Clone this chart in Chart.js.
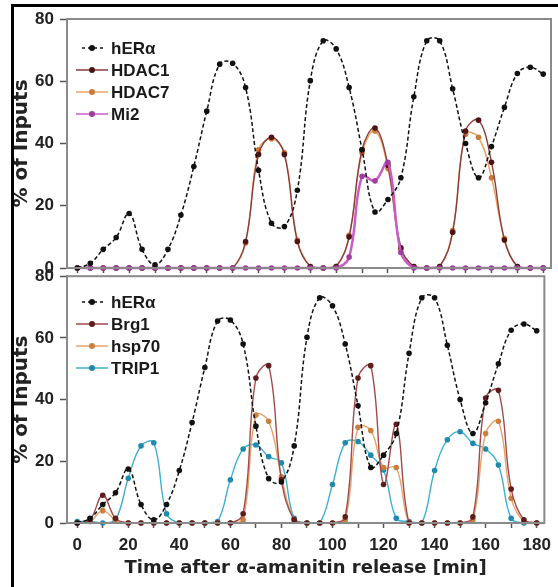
<!DOCTYPE html>
<html>
<head>
<meta charset="utf-8">
<script src="https://cdn.jsdelivr.net/npm/chart.js@4.4.1/dist/chart.umd.min.js"></script>
<style>
  html, body { margin: 0; padding: 0; background: #fff; }
  #wrap { position: relative; width: 558px; height: 587px; overflow: hidden; }
  #top { position: absolute; left: 0; top: 0; }
  #bot { position: absolute; left: 0; top: 260px; }
  .edge-t { position: absolute; left: 11px; top: 4px; width: 547px; height: 3px; background: #000; }
  .edge-l { position: absolute; left: 11px; top: 4px; width: 3px; height: 583px; background: #000; }
</style>
</head>
<body>
<div id="wrap">
  <canvas id="top" width="558" height="285"></canvas>
  <canvas id="bot" width="558" height="327"></canvas>
  <div class="edge-t"></div>
  <div class="edge-l"></div>
</div>
<script>
"use strict";

// ── Data (time in min, values in % of inputs) ────────────────────────────────
const TIME = [0, 5, 10, 15, 20, 25, 30, 35, 40, 45, 50, 55, 60, 65, 70, 75, 80, 85, 90,
  95, 100, 105, 110, 115, 120, 125, 130, 135, 140, 145, 150, 155, 160, 165, 170, 175, 180];

const HERA  = [0, 1.5, 6, 9.8, 17.5, 6, 1, 6, 17, 32.6, 50.4, 65.5, 65.8, 58, 31.4, 14.4, 13.3, 25, 60.2,
  73, 70.4, 58, 38, 18, 22, 29, 55, 73, 73, 57.6, 40, 29, 39, 51.6, 62.5, 64.5, 62.3];

const HDAC1 = [0, 0, 0, 0, 0, 0, 0, 0, 0, 0, 0, 0, 0, 8.5, 36.5, 42, 36.5, 8.5, 0.5,
  0, 0.5, 10, 38, 45, 33, 6.5, 0.5, 0, 0.5, 11.5, 44, 47.5, 34, 9, 0.5, 0, 0];
const HDAC7 = [0, 0, 0, 0, 0, 0, 0, 0, 0, 0, 0, 0, 0, 8, 38, 41.5, 37, 9, 0.5,
  0, 0.5, 10.5, 37, 44, 32, 6, 0.5, 0, 0.5, 12, 43, 42, 29, 9.5, 0.5, 0, 0];
const MI2   = [0, 0, 0, 0, 0, 0, 0, 0, 0, 0, 0, 0, 0, 0, 0, 0, 0, 0, 0,
  0, 0, 3.5, 29.5, 28, 34, 5, 0, 0, 0, 0, 0, 0, 0, 0, 0, 0, 0];

const BRG1  = [0, 1, 9, 1.5, 0, 0, 0, 0, 0, 0, 0, 0, 0, 3, 47, 51, 14, 1, 0,
  0, 0, 2, 47, 51, 12.5, 32, 0, 0, 0, 0, 0, 2, 40.5, 43, 11, 1, 0];
const HSP70 = [0, 0.5, 4, 1, 0, 0, 0, 0, 0, 0, 0, 0, 0, 1, 35, 33, 15, 1, 0,
  0, 0, 1, 31, 30, 18, 18, 0, 0, 0, 0, 0, 1, 29, 33, 8, 0.5, 0];
const TRIP1 = [0.5, 0.5, 0, 1, 14.5, 25, 26, 3, 0, 0, 0, 0.5, 14, 24, 25.3, 21.5, 19.5, 1.5, 0,
  0, 12.5, 26, 26.4, 22, 17.2, 1.5, 0.5, 0, 17, 27, 29.6, 25.8, 24, 18.8, 1.5, 0, 0];

const Y_TICKS = [0, 20, 40, 60, 80];
const X_LABELS = [0, 20, 40, 60, 80, 100, 120, 140, 160, 180];

const FONT = "'Liberation Sans', Arial, sans-serif";
const WIDE = "'DejaVu Sans', sans-serif";

// ── Colours ──────────────────────────────────────────────────────────────────
const C = {
  hera:  ["#111111", "#111111"],
  hdac1: ["#8a3c3c", "#4e1414"],
  hdac7: ["#e9a466", "#c97a3a"],
  mi2:   ["#c95cc9", "#a13ca1"],
  brg1:  ["#a04a4a", "#5e1c1c"],
  hsp70: ["#e6a36c", "#c9803f"],
  trip1: ["#3fb0d0", "#1f8aae"],
};

const pts = arr => TIME.map((t, i) => ({ x: t, y: arr[i] }));

function series(label, arr, col, extra = {}) {
  return Object.assign({
    label,
    data: pts(arr),
    borderColor: col[0],
    backgroundColor: col[1],
    pointBackgroundColor: col[1],
    pointBorderColor: col[1],
    pointRadius: 2.8,
    pointBorderWidth: 0,
    borderWidth: 1.4,
    tension: 0.4,
    clip: false,
  }, extra);
}

const heraSet = () => series("hERα", HERA, C.hera, { borderDash: [4, 2.5], borderWidth: 1.5, order: 0 });

// ── Plugins: panel frame + inline legend ─────────────────────────────────────
const framePlugin = {
  id: "frame",
  afterDraw(chart) {
    const { ctx, chartArea: a } = chart;
    ctx.save();
    ctx.strokeStyle = "#8a8a8a";
    ctx.lineWidth = 2;
    ctx.strokeRect(a.left, a.top, a.right - a.left, a.bottom - a.top);
    ctx.restore();
  },
};

const legendPlugin = {
  id: "inlegend",
  afterDraw(chart, args, opts) {
    const ctx = chart.ctx;
    ctx.save();
    ctx.font = `bold 17px ${FONT}`;
    ctx.textBaseline = "middle";
    opts.items.forEach((it, i) => {
      const y = opts.ys[i];
      ctx.strokeStyle = it.col[0];
      ctx.lineWidth = 1.5;
      ctx.setLineDash(it.dash ? [3, 3] : []);
      ctx.beginPath();
      ctx.moveTo(it.dash ? 82 : 76, y);
      ctx.lineTo(it.dash ? 104 : 108, y);
      ctx.stroke();
      ctx.setLineDash([]);
      ctx.fillStyle = it.col[1];
      ctx.beginPath();
      ctx.arc(92, y, 3, 0, Math.PI * 2);
      ctx.fill();
      ctx.fillStyle = "#1a1a1a";
      ctx.fillText(it.label, 111, y + 1);
    });
    ctx.restore();
  },
};

// ── Scales ───────────────────────────────────────────────────────────────────
function yScale() {
  return {
    min: 0, max: 80,
    afterBuildTicks: s => { s.ticks = Y_TICKS.map(v => ({ value: v })); },
    ticks: { color: "#222", font: { family: FONT, size: 17, weight: "bold" }, padding: 6 },
    grid: { drawOnChartArea: false, tickLength: 7, tickWidth: 1.5, tickColor: "#555" },
    border: { color: "#666", width: 2 },
    title: {
      display: true, text: "% of Inputs", color: "#222",
      font: { family: WIDE, size: 20, weight: "bold" }, padding: { top: 10, bottom: 0 },
    },
    afterFit: s => { s.width = 67; },
  };
}

function xScale(showLabels, height) {
  return {
    type: "linear", min: -4, max: 183,
    ticks: {
      display: showLabels, stepSize: 10, includeBounds: false, autoSkip: false, maxRotation: 0,
      color: "#222", font: { family: FONT, size: 17, weight: "bold" }, padding: 7,
      callback: v => (X_LABELS.includes(v) ? v : ""),
    },
    grid: { drawOnChartArea: false, tickLength: 5, tickWidth: 1.5, tickColor: "#555" },
    border: { color: "#666", width: 2 },
    title: {
      display: showLabels, text: "Time after α-amanitin release [min]", color: "#222",
      font: { family: WIDE, size: 18, weight: "bold" }, padding: { top: 4, bottom: 0 },
    },
    afterFit: s => { s.height = height; },
  };
}

function makeChart(id, datasets, legendItems, legendYs, padTop, padBottom, xHeight, showX) {
  return new Chart(document.getElementById(id), {
    type: "line",
    data: { datasets },
    options: {
      responsive: false,
      animation: false,
      devicePixelRatio: 1,
      layout: { padding: { left: 0, top: padTop, right: 7, bottom: padBottom } },
      plugins: {
        legend: { display: false },
        tooltip: { enabled: false },
        inlegend: { items: legendItems, ys: legendYs },
      },
      scales: { x: xScale(showX, xHeight), y: yScale() },
    },
    plugins: [framePlugin, legendPlugin],
  });
}

// ── Top panel: hERα with HDAC1, HDAC7, Mi2 ───────────────────────────────────
makeChart("top", [
  heraSet(),
  series("Mi2", MI2, C.mi2, { order: 1, borderWidth: 2.5 }),
  series("HDAC1", HDAC1, C.hdac1, { order: 2 }),
  series("HDAC7", HDAC7, C.hdac7, { order: 3 }),
], [
  { label: "hERα", col: C.hera, dash: true },
  { label: "HDAC1", col: C.hdac1 },
  { label: "HDAC7", col: C.hdac7 },
  { label: "Mi2", col: C.mi2 },
], [48, 70, 92, 114], 19, 0, 17, false);

// ── Bottom panel: hERα with Brg1, hsp70, TRIP1 ───────────────────────────────
makeChart("bot", [
  heraSet(),
  series("Brg1", BRG1, C.brg1, { order: 1 }),
  series("hsp70", HSP70, C.hsp70, { order: 2 }),
  series("TRIP1", TRIP1, C.trip1, { order: 3 }),
], [
  { label: "hERα", col: C.hera, dash: true },
  { label: "Brg1", col: C.brg1 },
  { label: "hsp70", col: C.hsp70 },
  { label: "TRIP1", col: C.trip1 },
], [42, 64, 86, 108], 16, 8, 56, true);
</script>
</body>
</html>
